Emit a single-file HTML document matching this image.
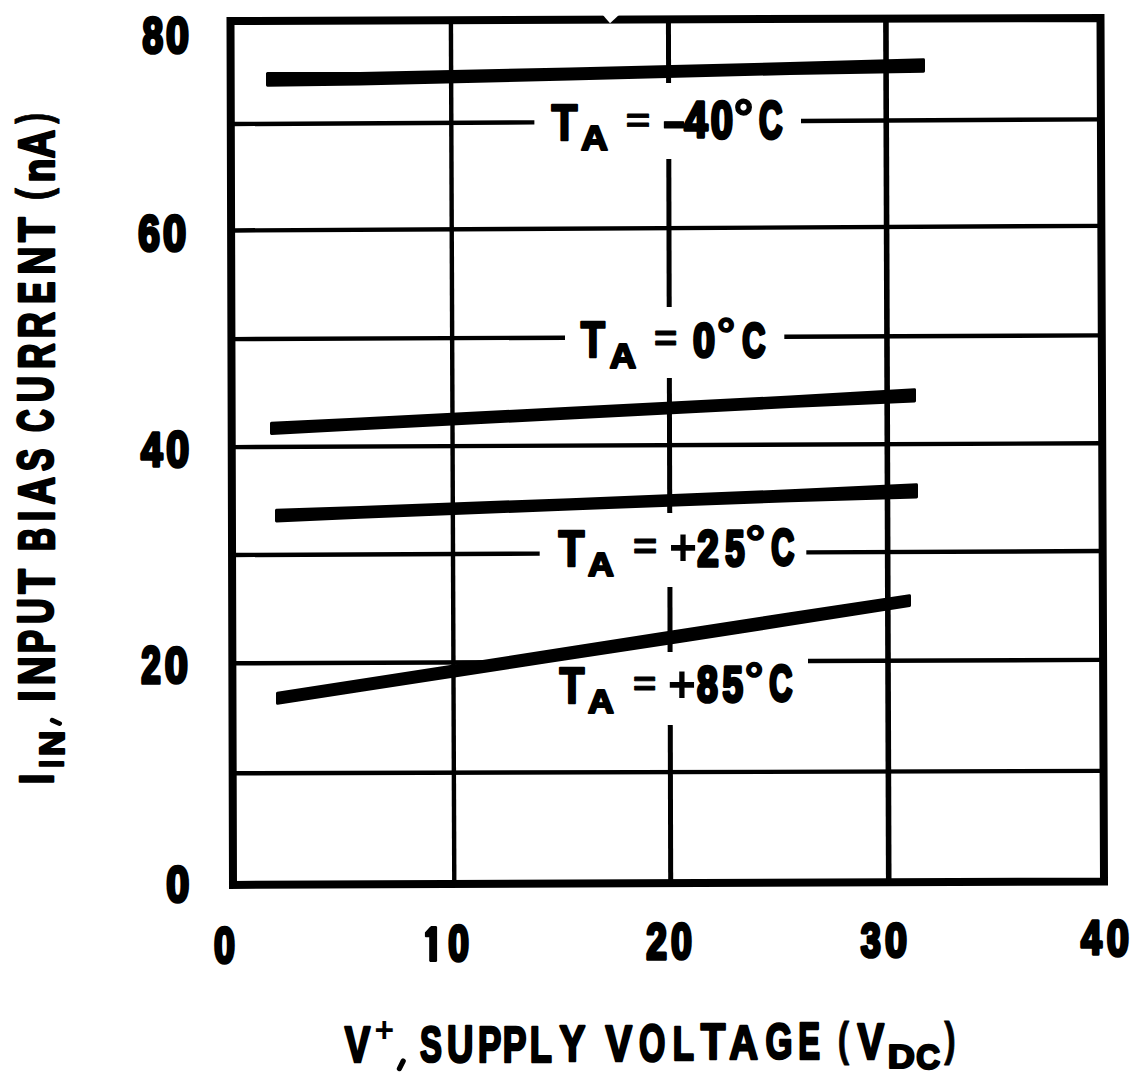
<!DOCTYPE html>
<html><head><meta charset="utf-8"><title>Input bias current vs supply voltage</title>
<style>
html,body{margin:0;padding:0;background:#fff;width:1142px;height:1080px;overflow:hidden}
svg{display:block}
text{font-family:"Liberation Sans",sans-serif;font-weight:bold;font-size:100px;fill:#000}
</style></head><body>
<svg width="1142" height="1080" viewBox="0 0 1142 1080">
<rect x="0" y="0" width="1142" height="1080" fill="#fff"/>
<path d="M230.5 21 L1100.5 17.9 L1104 881.4 L233 884.9 Z" fill="none" stroke="#000" stroke-width="8" stroke-linejoin="miter"/>
<path d="M602 14 L620 14 L610 23.2 Z" fill="#fff"/>
<line x1="233" y1="124.0467" x2="534.4" y2="122.4094" stroke="#000" stroke-width="4.4"/>
<line x1="801" y1="120.9612" x2="1102" y2="119.3262" stroke="#000" stroke-width="4.4"/>
<line x1="233" y1="230.4433" x2="1102" y2="225.8301" stroke="#000" stroke-width="4.4"/>
<line x1="233" y1="339.1167" x2="565" y2="337.6821" stroke="#000" stroke-width="4.4"/>
<line x1="784.3" y1="336.7345" x2="1102" y2="335.3617" stroke="#000" stroke-width="4.4"/>
<line x1="233" y1="447.12" x2="1102" y2="443.2578" stroke="#000" stroke-width="4.4"/>
<line x1="233" y1="555.0233" x2="539.7" y2="553.6224" stroke="#000" stroke-width="4.4"/>
<line x1="806.3" y1="552.4046" x2="1102" y2="551.0538" stroke="#000" stroke-width="4.4"/>
<line x1="233" y1="663.3067" x2="500" y2="662.2519" stroke="#000" stroke-width="4.4"/>
<line x1="808" y1="661.0351" x2="1102" y2="659.8736" stroke="#000" stroke-width="4.4"/>
<line x1="233" y1="773.2733" x2="1102" y2="770.9131" stroke="#000" stroke-width="4.4"/>
<line x1="450.902" y1="20" x2="454.2863" y2="883" stroke="#000" stroke-width="4.4"/>
<line x1="668.4346" y1="20" x2="668.5993" y2="83" stroke="#000" stroke-width="5"/>
<line x1="668.798" y1="159" x2="669.185" y2="307" stroke="#000" stroke-width="5"/>
<line x1="669.3706" y1="378" x2="669.7235" y2="513" stroke="#000" stroke-width="5"/>
<line x1="669.917" y1="587" x2="670.0869" y2="652" stroke="#000" stroke-width="5"/>
<line x1="670.2778" y1="725" x2="670.6908" y2="883" stroke="#000" stroke-width="5"/>
<line x1="885.9183" y1="20" x2="888.7386" y2="883" stroke="#000" stroke-width="5.6"/>
<path d="M267.5 73.5476 L360 73.4 L570 69.05 L790 63.55 L923.5 59.6933 L923.5 71.3733 L790 73.45 L570 78.95 L360 84 L267.5 85.2301 Z" fill="#000" stroke="#000" stroke-width="3" stroke-linejoin="round"/>
<path d="M271.5 423.3262 L360 418.9746 L570 408.232 L790 396.9755 L914.5 389.6878 L914.5 401.0664 L790 406.5755 L570 417.932 L360 428.7746 L271.5 433.5196 Z" fill="#000" stroke="#000" stroke-width="3" stroke-linejoin="round"/>
<path d="M276.5 510.2499 L360 507.4584 L570 499.6262 L790 490.8068 L916.5 484.7716 L916.5 496.9446 L790 500.7068 L570 508.9262 L360 517.3584 L276.5 521.034 Z" fill="#000" stroke="#000" stroke-width="3" stroke-linejoin="round"/>
<path d="M277.5 693.3165 L360 680.473 L545 651.8427 L670 632.2817 L790 613.7931 L909.5 595.8255 L909.5 605.4379 L790 624.3931 L670 642.9817 L545 662.0427 L360 690.573 L277.5 703.2201 Z" fill="#000" stroke="#000" stroke-width="3" stroke-linejoin="round"/>
<path d="M431.2 925.9 L436.2 925.9 L437.1 927 L437.1 961 L436.2 961.9 L430.1 961.9 L429.2 961 L429.2 937.2 L425.6 937.2 L424.9 936.4 L424.9 932.6 L429.6 927.2 Z" fill="#000"/>
<line x1="403.2" y1="1061" x2="399.4" y2="1068.6" stroke="#000" stroke-width="5.2" stroke-linecap="round"/>
<line x1="52.2" y1="720.2" x2="59.6" y2="723.6" stroke="#000" stroke-width="4.8" stroke-linecap="round"/>
<text transform="matrix(0.4245,0,0,0.5044,551.4732,139.75)" stroke="#000" stroke-width="2.3" vector-effect="non-scaling-stroke" stroke-linejoin="round">T</text>
<text transform="matrix(0.3726,0,0,0.343,580.9221,149.75)" stroke="#000" stroke-width="2.3" vector-effect="non-scaling-stroke" stroke-linejoin="round">A</text>
<text transform="matrix(0.4188,0,0,0.3413,625.7619,132.15)" stroke="#000" stroke-width="1" vector-effect="non-scaling-stroke" stroke-linejoin="round">=</text>
<text transform="matrix(0.7483,0,0,0.5288,661.5769,139.1602)" stroke="#000" stroke-width="1" vector-effect="non-scaling-stroke" stroke-linejoin="round">-</text>
<text transform="matrix(0.4201,0,0,0.4913,684.2642,137.2)" stroke="#000" stroke-width="3.2" vector-effect="non-scaling-stroke" stroke-linejoin="round">4</text>
<text transform="matrix(0.3995,0,0,0.5169,710.7199,138.3952)" stroke="#000" stroke-width="3.2" vector-effect="non-scaling-stroke" stroke-linejoin="round">0</text>
<text transform="matrix(0.4888,0,0,0.5039,733.7518,133.6595)" stroke="#000" stroke-width="1.6" vector-effect="non-scaling-stroke" stroke-linejoin="round">°</text>
<text transform="matrix(0.3243,0,0,0.5099,759.0701,137.9021)" stroke="#000" stroke-width="3.2" vector-effect="non-scaling-stroke" stroke-linejoin="round">C</text>
<text transform="matrix(0.3974,0,0,0.5015,580.7037,357.45)" stroke="#000" stroke-width="2.3" vector-effect="non-scaling-stroke" stroke-linejoin="round">T</text>
<text transform="matrix(0.3652,0,0,0.3445,609.6406,367.65)" stroke="#000" stroke-width="2.3" vector-effect="non-scaling-stroke" stroke-linejoin="round">A</text>
<text transform="matrix(0.3988,0,0,0.3625,653.9447,351.1508)" stroke="#000" stroke-width="1" vector-effect="non-scaling-stroke" stroke-linejoin="round">=</text>
<text transform="matrix(0.3953,0,0,0.4887,692.9366,356.6228)" stroke="#000" stroke-width="3.2" vector-effect="non-scaling-stroke" stroke-linejoin="round">0</text>
<text transform="matrix(0.4537,0,0,0.4356,716.9062,349.1095)" stroke="#000" stroke-width="1.6" vector-effect="non-scaling-stroke" stroke-linejoin="round">°</text>
<text transform="matrix(0.3197,0,0,0.4887,742.1889,356.6228)" stroke="#000" stroke-width="3.2" vector-effect="non-scaling-stroke" stroke-linejoin="round">C</text>
<text transform="matrix(0.4245,0,0,0.5015,558.5732,565.65)" stroke="#000" stroke-width="2.3" vector-effect="non-scaling-stroke" stroke-linejoin="round">T</text>
<text transform="matrix(0.3577,0,0,0.3401,588.0592,575.55)" stroke="#000" stroke-width="2.3" vector-effect="non-scaling-stroke" stroke-linejoin="round">A</text>
<text transform="matrix(0.4148,0,0,0.3625,632.8785,559.3508)" stroke="#000" stroke-width="1" vector-effect="non-scaling-stroke" stroke-linejoin="round">=</text>
<text transform="matrix(0.4806,0,0,0.5199,668.8819,565.1869)">+</text>
<text transform="matrix(0.3863,0,0,0.4984,697.3606,565.6)" stroke="#000" stroke-width="3.2" vector-effect="non-scaling-stroke" stroke-linejoin="round">2</text>
<text transform="matrix(0.3477,0,0,0.5073,725.3304,565.7045)" stroke="#000" stroke-width="3.2" vector-effect="non-scaling-stroke" stroke-linejoin="round">5</text>
<text transform="matrix(0.4952,0,0,0.4649,745.5237,558.0452)" stroke="#000" stroke-width="1.6" vector-effect="non-scaling-stroke" stroke-linejoin="round">°</text>
<text transform="matrix(0.3181,0,0,0.5,771.2951,565.1117)" stroke="#000" stroke-width="3.2" vector-effect="non-scaling-stroke" stroke-linejoin="round">C</text>
<text transform="matrix(0.4076,0,0,0.5058,559.5923,702.75)" stroke="#000" stroke-width="2.3" vector-effect="non-scaling-stroke" stroke-linejoin="round">T</text>
<text transform="matrix(0.3577,0,0,0.3401,588.0592,712.65)" stroke="#000" stroke-width="2.3" vector-effect="non-scaling-stroke" stroke-linejoin="round">A</text>
<text transform="matrix(0.3988,0,0,0.3466,632.9447,696.4252)" stroke="#000" stroke-width="1" vector-effect="non-scaling-stroke" stroke-linejoin="round">=</text>
<text transform="matrix(0.4846,0,0,0.512,667.8651,701.925)">+</text>
<text transform="matrix(0.3748,0,0,0.5056,697.0106,701.7062)" stroke="#000" stroke-width="3.2" vector-effect="non-scaling-stroke" stroke-linejoin="round">8</text>
<text transform="matrix(0.3678,0,0,0.4916,722.4686,701.7199)" stroke="#000" stroke-width="3.2" vector-effect="non-scaling-stroke" stroke-linejoin="round">5</text>
<text transform="matrix(0.4665,0,0,0.4551,744.6501,694.5667)" stroke="#000" stroke-width="1.6" vector-effect="non-scaling-stroke" stroke-linejoin="round">°</text>
<text transform="matrix(0.3197,0,0,0.4972,769.2889,701.3145)" stroke="#000" stroke-width="3.2" vector-effect="non-scaling-stroke" stroke-linejoin="round">C</text>
<text transform="matrix(0.3707,0,0,0.4929,142.4234,52.9186)" stroke="#000" stroke-width="3.2" vector-effect="non-scaling-stroke" stroke-linejoin="round">8</text>
<text transform="matrix(0.4121,0,0,0.4929,166.07,52.9186)" stroke="#000" stroke-width="3.2" vector-effect="non-scaling-stroke" stroke-linejoin="round">0</text>
<text transform="matrix(0.3889,0,0,0.4915,138.1758,250.72)" stroke="#000" stroke-width="3.2" vector-effect="non-scaling-stroke" stroke-linejoin="round">6</text>
<text transform="matrix(0.4163,0,0,0.4915,163.0534,250.72)" stroke="#000" stroke-width="3.2" vector-effect="non-scaling-stroke" stroke-linejoin="round">0</text>
<text transform="matrix(0.3865,0,0,0.4898,141.115,466.2)" stroke="#000" stroke-width="3.2" vector-effect="non-scaling-stroke" stroke-linejoin="round">4</text>
<text transform="matrix(0.4121,0,0,0.5042,166.17,466.6076)" stroke="#000" stroke-width="3.2" vector-effect="non-scaling-stroke" stroke-linejoin="round">0</text>
<text transform="matrix(0.351,0,0,0.5113,141.2831,683.1)" stroke="#000" stroke-width="3.2" vector-effect="non-scaling-stroke" stroke-linejoin="round">2</text>
<text transform="matrix(0.4163,0,0,0.5042,164.8534,682.6076)" stroke="#000" stroke-width="3.2" vector-effect="non-scaling-stroke" stroke-linejoin="round">0</text>
<text transform="matrix(0.4142,0,0,0.5,166.3617,901.5117)" stroke="#000" stroke-width="3.2" vector-effect="non-scaling-stroke" stroke-linejoin="round">0</text>
<text transform="matrix(0.3764,0,0,0.5085,214.0114,962.9034)" stroke="#000" stroke-width="3.2" vector-effect="non-scaling-stroke" stroke-linejoin="round">0</text>
<text transform="matrix(0.3722,0,0,0.4915,448.228,960.72)" stroke="#000" stroke-width="3.2" vector-effect="non-scaling-stroke" stroke-linejoin="round">0</text>
<text transform="matrix(0.3718,0,0,0.4984,646.2111,959.3)" stroke="#000" stroke-width="3.2" vector-effect="non-scaling-stroke" stroke-linejoin="round">2</text>
<text transform="matrix(0.3764,0,0,0.5042,671.0114,958.8076)" stroke="#000" stroke-width="3.2" vector-effect="non-scaling-stroke" stroke-linejoin="round">0</text>
<text transform="matrix(0.3601,0,0,0.4877,860.6736,956.5523)" stroke="#000" stroke-width="3.2" vector-effect="non-scaling-stroke" stroke-linejoin="round">3</text>
<text transform="matrix(0.3953,0,0,0.4887,885.0366,956.6228)" stroke="#000" stroke-width="3.2" vector-effect="non-scaling-stroke" stroke-linejoin="round">0</text>
<text transform="matrix(0.3734,0,0,0.4898,1080.9348,954.3)" stroke="#000" stroke-width="3.2" vector-effect="non-scaling-stroke" stroke-linejoin="round">4</text>
<text transform="matrix(0.3995,0,0,0.5014,1106.8199,955.6103)" stroke="#000" stroke-width="3.2" vector-effect="non-scaling-stroke" stroke-linejoin="round">0</text>
<text transform="matrix(0.3811,0,0,0.4956,344.7895,1062.05)" stroke="#000" stroke-width="2.3" vector-effect="non-scaling-stroke" stroke-linejoin="round">V</text>
<text transform="matrix(0.335,0,0,0.3446,374.5932,1042.3091)">+</text>
<text transform="matrix(0.3288,0,0,0.5056,419.9027,1062.2562)" stroke="#000" stroke-width="2.3" vector-effect="non-scaling-stroke" stroke-linejoin="round">S</text>
<text transform="matrix(0.366,0,0,0.5102,446.9518,1062.2517)" stroke="#000" stroke-width="2.3" vector-effect="non-scaling-stroke" stroke-linejoin="round">U</text>
<text transform="matrix(0.3499,0,0,0.5073,478.0095,1061.65)" stroke="#000" stroke-width="2.3" vector-effect="non-scaling-stroke" stroke-linejoin="round">P</text>
<text transform="matrix(0.3552,0,0,0.5073,502.6741,1061.65)" stroke="#000" stroke-width="2.3" vector-effect="non-scaling-stroke" stroke-linejoin="round">P</text>
<text transform="matrix(0.3624,0,0,0.5073,529.7255,1061.65)" stroke="#000" stroke-width="2.3" vector-effect="non-scaling-stroke" stroke-linejoin="round">L</text>
<text transform="matrix(0.3866,0,0,0.5073,559.4894,1060.95)" stroke="#000" stroke-width="2.3" vector-effect="non-scaling-stroke" stroke-linejoin="round">Y</text>
<text transform="matrix(0.398,0,0,0.5073,605.578,1060.95)" stroke="#000" stroke-width="2.3" vector-effect="non-scaling-stroke" stroke-linejoin="round">V</text>
<text transform="matrix(0.3382,0,0,0.5141,638.9628,1061.1479)" stroke="#000" stroke-width="2.3" vector-effect="non-scaling-stroke" stroke-linejoin="round">O</text>
<text transform="matrix(0.3469,0,0,0.4898,672.7297,1059.75)" stroke="#000" stroke-width="2.3" vector-effect="non-scaling-stroke" stroke-linejoin="round">L</text>
<text transform="matrix(0.4025,0,0,0.4971,700.698,1059.45)" stroke="#000" stroke-width="2.3" vector-effect="non-scaling-stroke" stroke-linejoin="round">T</text>
<text transform="matrix(0.398,0,0,0.4869,729.159,1058.75)" stroke="#000" stroke-width="2.3" vector-effect="non-scaling-stroke" stroke-linejoin="round">A</text>
<text transform="matrix(0.3468,0,0,0.5014,765.5277,1059.2603)" stroke="#000" stroke-width="2.3" vector-effect="non-scaling-stroke" stroke-linejoin="round">G</text>
<text transform="matrix(0.3262,0,0,0.5116,798.168,1059.45)" stroke="#000" stroke-width="2.3" vector-effect="non-scaling-stroke" stroke-linejoin="round">E</text>
<text transform="matrix(0.398,0,0,0.5073,857.578,1058.75)" stroke="#000" stroke-width="2.3" vector-effect="non-scaling-stroke" stroke-linejoin="round">V</text>
<text transform="matrix(0.375,0,0,0.3387,887.6412,1068.35)" stroke="#000" stroke-width="2.3" vector-effect="non-scaling-stroke" stroke-linejoin="round">D</text>
<text transform="matrix(0.3288,0,0,0.346,916.3012,1068.8121)" stroke="#000" stroke-width="2.3" vector-effect="non-scaling-stroke" stroke-linejoin="round">C</text>
<text transform="matrix(0.3402,0,0,0.4592,837.8059,1054.8715)" stroke="#000" stroke-width="0.8" vector-effect="non-scaling-stroke" stroke-linejoin="round">(</text>
<text transform="matrix(0.3437,0,0,0.4645,944.3664,1054.7601)" stroke="#000" stroke-width="0.8" vector-effect="non-scaling-stroke" stroke-linejoin="round">)</text>
<text transform="matrix(0,-0.326,0.4656,0,49.0379,123.6318)" stroke="#000" stroke-width="0.8" vector-effect="non-scaling-stroke" stroke-linejoin="round">)</text>
<text transform="matrix(0,-0.3935,0.5058,0,53.75,158.3299)" stroke="#000" stroke-width="2.3" vector-effect="non-scaling-stroke" stroke-linejoin="round">A</text>
<text transform="matrix(0,-0.3852,0.4382,0,53.75,182.2889)" stroke="#000" stroke-width="2.3" vector-effect="non-scaling-stroke" stroke-linejoin="round">n</text>
<text transform="matrix(0,-0.3685,0.4645,0,49.2601,200.3353)" stroke="#000" stroke-width="0.8" vector-effect="non-scaling-stroke" stroke-linejoin="round">(</text>
<text transform="matrix(0,-0.4042,0.5058,0,53.75,242.1039)" stroke="#000" stroke-width="2.3" vector-effect="non-scaling-stroke" stroke-linejoin="round">T</text>
<text transform="matrix(0,-0.3878,0.5058,0,53.75,274.4444)" stroke="#000" stroke-width="2.3" vector-effect="non-scaling-stroke" stroke-linejoin="round">N</text>
<text transform="matrix(0,-0.3315,0.5058,0,53.75,303.6678)" stroke="#000" stroke-width="2.3" vector-effect="non-scaling-stroke" stroke-linejoin="round">E</text>
<text transform="matrix(0,-0.3623,0.5058,0,53.75,338.3738)" stroke="#000" stroke-width="2.3" vector-effect="non-scaling-stroke" stroke-linejoin="round">R</text>
<text transform="matrix(0,-0.3545,0.5058,0,53.75,369.0212)" stroke="#000" stroke-width="2.3" vector-effect="non-scaling-stroke" stroke-linejoin="round">R</text>
<text transform="matrix(0,-0.3627,0.4987,0,53.2629,402.1282)" stroke="#000" stroke-width="2.3" vector-effect="non-scaling-stroke" stroke-linejoin="round">U</text>
<text transform="matrix(0,-0.3151,0.4915,0,53.27,432.0423)" stroke="#000" stroke-width="2.3" vector-effect="non-scaling-stroke" stroke-linejoin="round">C</text>
<text transform="matrix(0,-0.3338,0.4915,0,53.27,471.0117)" stroke="#000" stroke-width="2.3" vector-effect="non-scaling-stroke" stroke-linejoin="round">S</text>
<text transform="matrix(0,-0.3816,0.5058,0,53.75,504.6002)" stroke="#000" stroke-width="2.3" vector-effect="non-scaling-stroke" stroke-linejoin="round">A</text>
<text transform="matrix(0,-0.3957,0.5058,0,53.75,521.3971)" stroke="#000" stroke-width="2.3" vector-effect="non-scaling-stroke" stroke-linejoin="round">I</text>
<text transform="matrix(0,-0.3197,0.5058,0,53.75,550.9889)" stroke="#000" stroke-width="2.3" vector-effect="non-scaling-stroke" stroke-linejoin="round">B</text>
<text transform="matrix(0,-0.4025,0.5058,0,53.75,593.802)" stroke="#000" stroke-width="2.3" vector-effect="non-scaling-stroke" stroke-linejoin="round">T</text>
<text transform="matrix(0,-0.3577,0.4987,0,53.2629,623.8983)" stroke="#000" stroke-width="2.3" vector-effect="non-scaling-stroke" stroke-linejoin="round">U</text>
<text transform="matrix(0,-0.3499,0.5058,0,53.75,653.2905)" stroke="#000" stroke-width="2.3" vector-effect="non-scaling-stroke" stroke-linejoin="round">P</text>
<text transform="matrix(0,-0.4014,0.5058,0,53.75,685.2354)" stroke="#000" stroke-width="2.3" vector-effect="non-scaling-stroke" stroke-linejoin="round">N</text>
<text transform="matrix(0,-0.4165,0.5058,0,53.75,701.7364)" stroke="#000" stroke-width="2.3" vector-effect="non-scaling-stroke" stroke-linejoin="round">I</text>
<text transform="matrix(0,-0.3504,0.3445,0,63.85,755.994)" stroke="#000" stroke-width="2.3" vector-effect="non-scaling-stroke" stroke-linejoin="round">N</text>
<text transform="matrix(0,-0.2569,0.3299,0,62.85,767.4683)" stroke="#000" stroke-width="2.3" vector-effect="non-scaling-stroke" stroke-linejoin="round">I</text>
<text transform="matrix(0,-0.3818,0.4898,0,52.85,784.2042)" stroke="#000" stroke-width="2.3" vector-effect="non-scaling-stroke" stroke-linejoin="round">I</text>
</svg>
</body></html>
